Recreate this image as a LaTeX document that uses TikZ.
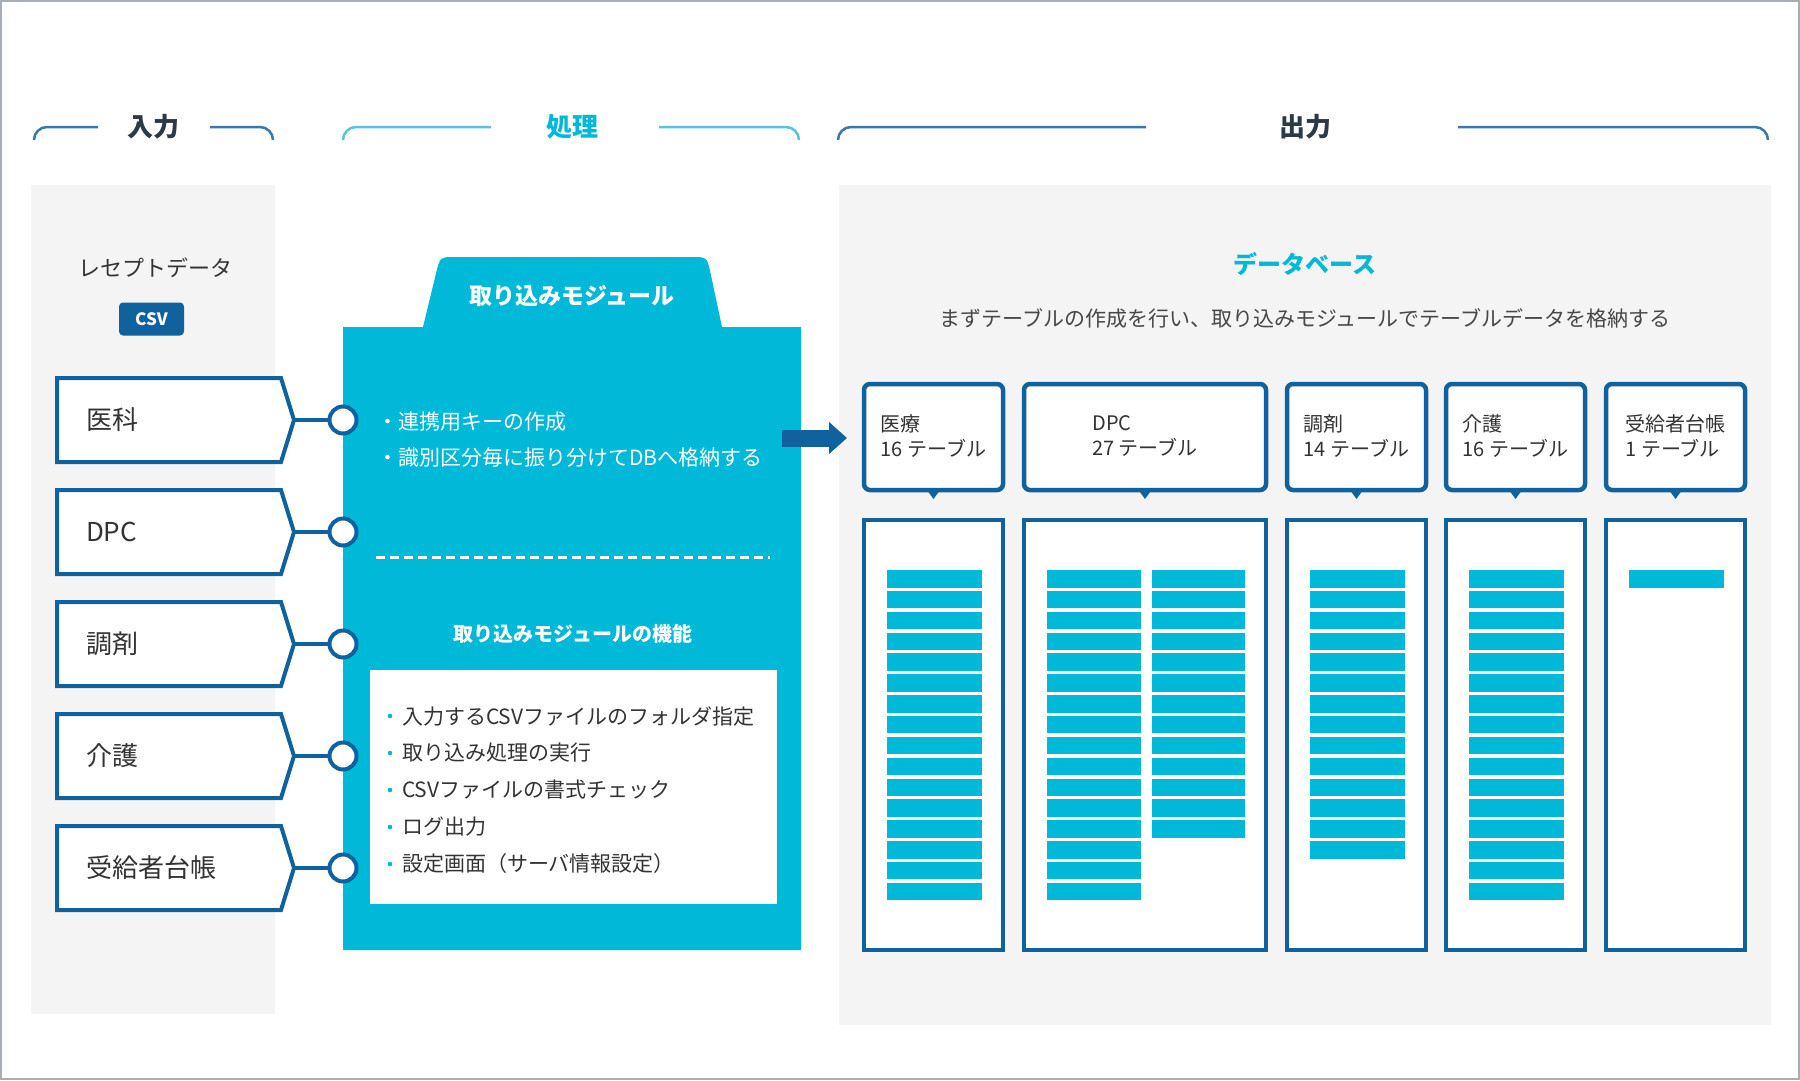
\documentclass[tikz,border=0pt]{standalone}
\usepackage{fontspec}
\setmainfont{Noto Sans CJK JP}
\usetikzlibrary{arrows.meta}
\definecolor{dblue}{HTML}{10629F}
\definecolor{cyanc}{HTML}{00B9D8}
\definecolor{panelc}{HTML}{F4F4F4}
\definecolor{txtc}{HTML}{333333}
\definecolor{headc}{HTML}{2B3A46}
\definecolor{brkblue}{HTML}{3B78A6}
\definecolor{brkcyan}{HTML}{5BC2DA}
\definecolor{framec}{HTML}{A9AEB4}
\newcommand{\pxsize}[2]{\fontsize{#1}{#2}\selectfont}
\begin{document}
\begin{tikzpicture}[x=1pt,y=-1pt,
  every node/.style={inner sep=0pt, outer sep=0pt},
  head/.style={font=\pxsize{26}{30}\bfseries, text=headc},
  brk/.style={line width=2.5pt, rounded corners=13pt},
  inbox/.style={draw=dblue, line width=4pt, fill=white, line join=miter},
  intext/.style={font=\pxsize{26}{30}, text=txtc, anchor=west},
  ring/.style={circle, draw=dblue, line width=4pt, fill=white, minimum size=27pt},
  conn/.style={draw=dblue, line width=4pt},
  wtext/.style={font=\pxsize{21}{25}, text=white, anchor=west},
  itemtext/.style={font=\pxsize{21}{25}, text=txtc, anchor=west},
  callbox/.style={draw=dblue, line width=4.5pt, fill=white, rounded corners=6pt},
  colbox/.style={draw=dblue, line width=3.5pt, fill=white},
  calltext/.style={font=\pxsize{20}{25}, text=txtc, align=left},
  bar/.style={fill=cyanc}
]
\useasboundingbox (0,0) rectangle (1800,1080);
\fill[white] (0,0) rectangle (1800,1080);
\draw[framec, line width=2pt] (1,1) rectangle (1799,1079);

% grey panels
\fill[panelc] (31,185) rectangle (275,1014);
\fill[panelc] (839,185) rectangle (1771,1025);

% headers
\node[head] (hin) at (153,127) {入力};
\node[head, text=cyanc] (hproc) at (572,127) {処理};
\node[head] (hout) at (1305,127) {出力};
\draw[brk, brkblue] (34,140) |- (98,127);
\draw[brk, brkblue] (210,127) -| (273,140);
\draw[brk, brkcyan] (343,140) |- (491,127);
\draw[brk, brkcyan] (659,127) -| (799,140);
\draw[brk, brkblue] (838,140) |- (1146,127);
\draw[brk, brkblue] (1458,127) -| (1768,140);

% input panel
\node[font=\pxsize{22}{26}, text=txtc] (rece) at (155,268) {レセプトデータ};
\node[fill=dblue, rounded corners=4pt, minimum width=65pt, minimum height=33pt,
      font=\pxsize{17}{20}\bfseries, text=white] (csv) at (151.5,319) {CSV};

% processing box
\fill[cyanc] (343,950) -- (343,327) -- (423,327) -- (436.2,272.6)
   .. controls (440,257) .. (456,257) -- (691,257)
   .. controls (707,257) .. (710.4,272.6) -- (722,327) -- (801,327) -- (801,950) -- cycle;
\node[font=\pxsize{23}{27}\bfseries, text=white] (tab) at (572,296) {取り込みモジュール};
\node[wtext] (b1) at (377,422) {・連携用キーの作成};
\node[wtext] (b2) at (377,458) {・識別区分毎に振り分けてDBへ格納する};
\draw[white, line width=3pt, dash pattern=on 9pt off 5pt] (376,557) -- (770,557);
\node[font=\pxsize{20}{24}\bfseries, text=white] (ftitle) at (573,634) {取り込みモジュールの機能};
\fill[white] (370,670) rectangle (777,904);
\foreach \i/\t in {0/入力するCSVファイルのフォルダ指定,1/取り込み処理の実行,2/CSVファイルの書式チェック,3/ログ出力,4/設定画面（サーバ情報設定）}{
  \pgfmathsetmacro\yy{716+37*\i}
  \fill[cyanc] (390,\yy) circle (2.3pt);
  \node[itemtext] (item\i) at (402,\yy) {\t};
}

% input boxes, connectors, rings
\foreach \i/\lab in {0/医科,1/DPC,2/調剤,3/介護,4/受給者台帳}{
  \pgfmathsetmacro\yy{420+112*\i}
  \draw[inbox] (57,\yy-42) -- (281,\yy-42) -- (294,\yy) -- (281,\yy+42) -- (57,\yy+42) -- cycle;
  \node[intext] (in\i) at (86,\yy) {\lab};
  \coordinate (tip\i) at (294,\yy);
  \node[ring] (ring\i) at (343,\yy) {};
  \draw[conn] (tip\i) -- (ring\i);
}

% arrow
\coordinate (arrS) at (782,438);
\coordinate (arrE) at (847,438);
\draw[dblue, line width=17pt, -{Triangle[length=18pt, width=31pt]}] (arrS) -- (arrE);

% database
\node[font=\pxsize{24}{28}\bfseries, text=cyanc] (dbt) at (1305,264) {データベース};
\node[font=\pxsize{21}{25}, text=txtc!90] (dbs) at (1305,318) {まずテーブルの作成を行い、取り込みモジュールでテーブルデータを格納する};

% columns
\foreach \xa/\xb in {864/1003,1024/1266,1287/1426,1446/1585,1606/1745}{
  \draw[colbox] (\xa,520) rectangle (\xb,950);
  \draw[callbox] (\xa,384) rectangle (\xb,490);
  \pgfmathsetmacro\cx{(\xa+\xb)/2}
  \fill[dblue] (\cx-8,488) -- (\cx+8,488) -- (\cx,499) -- cycle;
}
\node[calltext] (t1) at (933.5,436) {医療\\16 テーブル};
\node[calltext] (t2) at (1145,436) {DPC\\27 テーブル};
\node[calltext] (t3) at (1356.5,436) {調剤\\14 テーブル};
\node[calltext] (t4) at (1515.5,436) {介護\\16 テーブル};
\node[calltext] (t5) at (1675.5,436) {受給者台帳\\1 テーブル};

% bars
\foreach \k in {0,...,15}{
  \fill[bar] (887,570+20.85*\k) rectangle ++(95,17.5);
  \fill[bar] (1047,570+20.85*\k) rectangle ++(94,17.5);
  \fill[bar] (1469,570+20.85*\k) rectangle ++(95,17.5);
}
\foreach \k in {0,...,12}{
  \fill[bar] (1152,570+20.85*\k) rectangle ++(93,17.5);
}
\foreach \k in {0,...,13}{
  \fill[bar] (1310,570+20.85*\k) rectangle ++(95,17.5);
}
\fill[bar] (1629,570) rectangle ++(95,17.5);
\end{tikzpicture}
\end{document}
